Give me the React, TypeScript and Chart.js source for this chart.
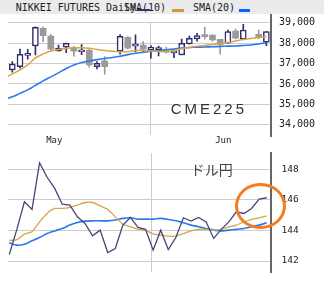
import React, { useEffect, useRef } from "react";
import { Chart, registerables } from "chart.js";

Chart.register(...registerables);

// ---------- Top panel: NIKKEI futures (CME225) ----------
const candleOpen = [36690, 36850, 37400, 37860, 38726, 38350, 37617, 37800, 37763, 37570, 37650, 36850, 37128, null, 37602, 38280, 37850, 37910, 37666, 37670, 37700, 37520, 37421, 37960, 38203, 38400, 38399, 38190, 37993, 38594, 38190, null, 38433, 38042];
const candleHigh = [37090, 37710, 37700, 38800, 38800, 38430, 37900, 38000, 37846, 37925, 37700, 37095, 37340, null, 38414, 38320, 38400, 38070, 37880, 37861, 37800, 37700, 38200, 38350, 38480, 38775, 38400, 38190, 38643, 38690, 38920, null, 38643, 38580];
const candleLow = [36580, 36770, 37210, 37420, 38070, 37630, 37600, 37530, 37357, 37436, 36820, 36740, 36480, null, 37455, 37700, 37580, 37550, 37260, 37372, 37520, 37290, 37420, 37950, 38100, 38200, 38100, 37455, 37990, 38200, 38180, null, 38200, 37880];
const candleClose = [36970, 37455, 37420, 38775, 38365, 37700, 37749, 37990, 37602, 37590, 36930, 37015, 36850, null, 38335, 37750, 37870, 37700, 37798, 37780, 37555, 37540, 37993, 38237, 38365, 38316, 38154, 37910, 38560, 38237, 38643, null, 38300, 38560];
// moving averages, slot -1 .. 33
const sma10Top = [36300, 36492, 36688, 36932, 37275, 37470, 37617, 37690, 37750, 37773, 37778, 37754, 37690, 37641, 37602, 37582, 37582, 37641, 37650, 37617, 37592, 37600, 37641, 37729, 37788, 37846, 37886, 37935, 37959, 38032, 38105, 38179, 38228, 38277, 38325];
const sma20Top = [35250, 35368, 35539, 35710, 35930, 36150, 36346, 36541, 36761, 36932, 37055, 37128, 37192, 37250, 37299, 37358, 37436, 37504, 37553, 37602, 37641, 37675, 37714, 37763, 37788, 37798, 37812, 37822, 37837, 37851, 37861, 37886, 37910, 37959, 38022];
const topYTicks = [34000, 35000, 36000, 37000, 38000, 39000];
const topXTickValues = [5.45, 18, 27.4];
const topXTickLabels = ["May", "", "Jun"];

// ---------- Bottom panel: USD/JPY ----------
const usdJpy = [142.43, 144.07, 145.88, 145.38, 148.43, 147.48, 146.75, 145.72, 145.66, 144.89, 144.46, 143.65, 144.02, 142.56, 142.82, 144.35, 144.85, 144.2, 144.07, 142.71, 144.02, 142.75, 143.54, 144.83, 144.61, 144.85, 144.56, 143.48, 144.07, 144.56, 145.22, 145.11, 145.44, 146.05, 146.14];
const sma10Bottom = [143.35, 143.4, 143.76, 143.91, 144.56, 145.11, 145.44, 145.44, 145.51, 145.66, 145.83, 145.83, 145.61, 145.38, 144.89, 144.41, 144.24, 144.09, 144.02, 143.77, 143.69, 143.63, 143.63, 143.8, 143.97, 144.07, 144.07, 144.02, 144.07, 144.24, 144.35, 144.56, 144.72, 144.83, 144.96];
const sma20Bottom = [143.19, 143.04, 143.1, 143.32, 143.54, 143.8, 143.97, 144.13, 144.35, 144.52, 144.61, 144.63, 144.63, 144.63, 144.68, 144.79, 144.83, 144.74, 144.74, 144.74, 144.79, 144.72, 144.63, 144.5, 144.35, 144.24, 144.13, 144.02, 143.97, 144.02, 144.07, 144.13, 144.24, 144.35, 144.5];
const bottomYTicks = [142, 144, 146, 148];
const bottomGridX = 18.85;

const NAVY = "#2e2e6e";
const GRAY = "#9a9a9a";
const ORANGE = "#d9a548";
const BLUE = "#2a78f0";
const GRID = "#cccccc";
const AXIS = "#666";

const noPad = (s: any) => {
  s.paddingTop = 0;
  s.paddingBottom = 0;
  s.paddingLeft = 0;
  s.paddingRight = 0;
};

export default function App() {
  const topRef = useRef<HTMLCanvasElement | null>(null);
  const botRef = useRef<HTMLCanvasElement | null>(null);

  useEffect(() => {
    const bodies: any[] = [];
    const wicks: any[] = [];
    const bodyBg: string[] = [];
    const bodyBorder: string[] = [];
    const bodyBW: number[] = [];
    const wickColor: string[] = [];
    candleOpen.forEach((o, i) => {
      if (o == null) return;
      const c = candleClose[i] as number;
      const up = c >= o;
      bodies.push({ x: i, y: [o, c] });
      wicks.push({ x: i, y: [candleLow[i], candleHigh[i]] });
      bodyBg.push(up ? "#ffffff" : GRAY);
      bodyBorder.push(up ? NAVY : GRAY);
      bodyBW.push(up ? 1.5 : 0);
      wickColor.push(up ? NAVY : GRAY);
    });

    const top = new Chart(topRef.current as HTMLCanvasElement, {
      type: "bar",
      data: {
        datasets: [
          {
            type: "line",
            data: sma10Top.map((v, i) => ({ x: i - 1, y: v })),
            borderColor: ORANGE,
            borderWidth: 1.5,
            pointRadius: 0,
            tension: 0.3,
          } as any,
          {
            type: "line",
            data: sma20Top.map((v, i) => ({ x: i - 1, y: v })),
            borderColor: BLUE,
            borderWidth: 1.6,
            pointRadius: 0,
            tension: 0.3,
          } as any,
          {
            type: "bar",
            data: bodies,
            backgroundColor: bodyBg,
            borderColor: bodyBorder,
            borderWidth: bodyBW,
            borderSkipped: false,
            barThickness: 6,
            minBarLength: 2,
            grouped: false,
          } as any,
          {
            type: "bar",
            data: wicks,
            backgroundColor: wickColor,
            borderWidth: 0,
            barThickness: 1,
            grouped: false,
          } as any,
        ],
      },
      options: {
        animation: false,
        responsive: false,
        maintainAspectRatio: false,
        events: [],
        layout: { padding: { left: 8, top: 22.7, right: 0, bottom: 0 } },
        plugins: { legend: { display: false }, tooltip: { enabled: false }, title: { display: false } },
        scales: {
          x: {
            type: "linear",
            min: -0.56,
            max: 33.6,
            offset: false,
            afterBuildTicks: (s: any) => {
              s.ticks = topXTickValues.map((v) => ({ value: v }));
            },
            afterFit: (s: any) => {
              s.height = 10;
              noPad(s);
            },
            ticks: {
              autoSkip: false,
              maxRotation: 0,
              padding: 0,
              color: "#222",
              font: { family: "DejaVu Sans Mono", size: 9 },
              callback: (_v: any, i: number) => topXTickLabels[i],
            },
            grid: {
              offset: false,
              drawTicks: false,
              color: (ctx: any) => (topXTickLabels[ctx.index] === "" ? GRID : "rgba(0,0,0,0)"),
            },
            border: { display: false },
          },
          y: {
            type: "linear",
            position: "right",
            min: 33500,
            max: 39000,
            afterBuildTicks: (s: any) => {
              s.ticks = topYTicks.map((v) => ({ value: v }));
            },
            afterFit: (s: any) => {
              s.width = 53;
              noPad(s);
            },
            ticks: {
              padding: 8,
              color: "#222",
              font: { family: "DejaVu Sans Mono", size: 10 },
              callback: (v: any) => Number(v).toLocaleString("en-US"),
            },
            grid: { drawTicks: false, color: GRID },
            border: { display: true, color: AXIS, width: 2 },
          },
        },
      } as any,
    });

    const bottom = new Chart(botRef.current as HTMLCanvasElement, {
      type: "line",
      data: {
        datasets: [
          {
            data: usdJpy.map((v, i) => ({ x: i, y: v })),
            borderColor: "#45457a",
            borderWidth: 1.3,
            pointRadius: 0,
            tension: 0,
          },
          {
            data: sma10Bottom.map((v, i) => ({ x: i, y: v })),
            borderColor: ORANGE,
            borderWidth: 1.3,
            pointRadius: 0,
            tension: 0.2,
          },
          {
            data: sma20Bottom.map((v, i) => ({ x: i, y: v })),
            borderColor: BLUE,
            borderWidth: 1.6,
            pointRadius: 0,
            tension: 0.2,
          },
        ],
      },
      options: {
        animation: false,
        responsive: false,
        maintainAspectRatio: false,
        events: [],
        layout: { padding: { left: 8, top: 8, right: 0, bottom: 10.3 } },
        plugins: { legend: { display: false }, tooltip: { enabled: false } },
        scales: {
          x: {
            type: "linear",
            min: -0.17,
            max: 34.57,
            offset: false,
            afterBuildTicks: (s: any) => {
              s.ticks = [{ value: bottomGridX }];
            },
            afterFit: (s: any) => {
              s.height = 0;
              noPad(s);
            },
            ticks: { display: false },
            grid: { offset: false, drawTicks: false, color: GRID },
            border: { display: false },
          },
          y: {
            type: "linear",
            position: "right",
            min: 141.3,
            max: 149.07,
            afterBuildTicks: (s: any) => {
              s.ticks = bottomYTicks.map((v) => ({ value: v }));
            },
            afterFit: (s: any) => {
              s.width = 53;
              noPad(s);
            },
            ticks: {
              padding: 10.5,
              color: "#222",
              font: { family: "DejaVu Sans Mono", size: 9.5 },
            },
            grid: { drawTicks: false, color: GRID },
            border: { display: true, color: AXIS, width: 2 },
          },
        },
      } as any,
    });

    return () => {
      top.destroy();
      bottom.destroy();
    };
  }, []);

  const mono = '"DejaVu Sans Mono", monospace';
  return (
    <div style={{ position: "absolute", left: 0, top: 0, width: 324, height: 282, background: "#fff", overflow: "hidden" }}>
      <div style={{ position: "absolute", left: 0, top: 0, width: 324, height: 14, background: "#ebebeb" }} />
      <span style={{ position: "absolute", left: 15.7, top: 2, font: `10px ${mono}`, color: "#222", whiteSpace: "pre" }}>
        NIKKEI FUTURES Daily
      </span>
      <span style={{ position: "absolute", left: 124, top: 2, font: `10px ${mono}`, color: "#222", whiteSpace: "pre" }}>
        SMA(10)
      </span>
      <div style={{ position: "absolute", left: 137, top: 8.5, width: 13, height: 2.5, background: "#333370" }} />
      <div style={{ position: "absolute", left: 172, top: 8.5, width: 11.5, height: 3, background: "#d09a3a" }} />
      <span style={{ position: "absolute", left: 193, top: 2, font: `10px ${mono}`, color: "#222", whiteSpace: "pre" }}>
        SMA(20)
      </span>
      <div style={{ position: "absolute", left: 239, top: 8.5, width: 11, height: 3, background: "#0a66ff" }} />

      <canvas ref={topRef} width={324} height={145} style={{ position: "absolute", left: 0, top: 0, width: 324, height: 145 }} />
      <canvas ref={botRef} width={324} height={137} style={{ position: "absolute", left: 0, top: 145, width: 324, height: 137 }} />

      {/* axis line extensions beyond the plot areas */}
      <div style={{ position: "absolute", left: 270, top: 14, width: 2, height: 9, background: AXIS }} />
      <div style={{ position: "absolute", left: 270, top: 135, width: 2, height: 2, background: AXIS }} />
      <div style={{ position: "absolute", left: 270, top: 271.5, width: 2, height: 1.5, background: AXIS }} />

      <span
        style={{
          position: "absolute",
          left: 170.7,
          top: 99.7,
          font: '15px "Liberation Sans", Arial, sans-serif',
          letterSpacing: 3,
          color: "#333",
          whiteSpace: "pre",
        }}
      >
        CME225
      </span>
      <span
        style={{
          position: "absolute",
          left: 190.7,
          top: 162,
          fontFamily: '"Noto Sans CJK JP", sans-serif',
          fontSize: 14,
          lineHeight: "14px",
          color: "#444",
          whiteSpace: "pre",
        }}
      >
        ドル円
      </span>
      <div
        style={{
          position: "absolute",
          left: 235,
          top: 182.7,
          width: 51,
          height: 46.7,
          boxSizing: "border-box",
          border: "3.5px solid #f47b20",
          borderRadius: "50%",
        }}
      />
    </div>
  );
}
